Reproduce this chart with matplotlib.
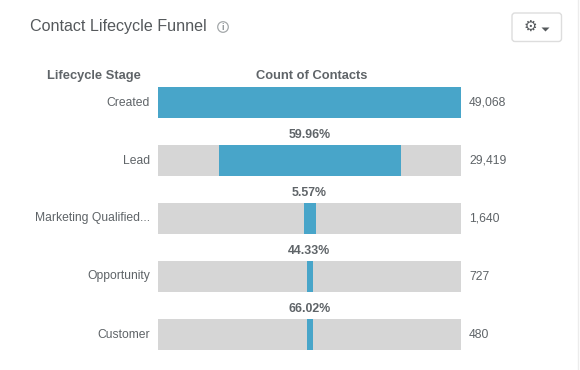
import matplotlib
matplotlib.use("Agg")
import matplotlib.pyplot as plt
from matplotlib.patches import FancyBboxPatch, Circle, Polygon

stages = ["Created", "Lead", "Marketing Qualified...", "Opportunity", "Customer"]
counts = [49068, 29419, 1640, 727, 480]
count_labels = ["49,068", "29,419", "1,640", "727", "480"]
# widths as drawn in the picture (small bars are shown wider than to scale)
drawn_widths = [49068, 29419, 1943, 972, 972]
conversion = [None, "59.96%", "5.57%", "44.33%", "66.02%"]

BLUE = "#48a5c9"
GREY = "#d6d6d6"
TEXT = "#5f6468"
W, H = 580, 370
plt.rcParams["font.family"] = ["Liberation Sans", "DejaVu Sans"]
fig = plt.figure(figsize=(W / 100, H / 100), dpi=100, facecolor="white")

# overlay in pixel coordinates for the panel furniture
ov = fig.add_axes([0, 0, 1, 1], zorder=0)
ov.set_xlim(0, W); ov.set_ylim(H, 0); ov.axis("off")
ov.plot([578, 578], [0, H], color="#ececec", lw=1)
ov.text(30, 27, "Contact Lifecycle Funnel", fontsize=11.6, color="#55595c", va="center", ha="left")
ov.add_patch(Circle((223, 27), 5.3, fc="white", ec="#a4a8aa", lw=0.9))
ov.text(223, 27.3, "i", fontsize=6.5, color="#8f9497", ha="center", va="center", fontweight="bold")
ov.add_patch(FancyBboxPatch((512, 13), 49.5, 28.5, boxstyle="round,pad=0,rounding_size=3",
                            fc="white", ec="#dddddd", lw=1))
ov.text(530.7, 26.3, "\u2699", fontsize=11, color="#55595c", ha="center", va="center",
        family="DejaVu Sans", fontweight="bold")
ov.add_patch(Polygon([[541.5, 27.5], [549.5, 27.5], [545.5, 31.5]], fc="#55595c", ec="none"))
ov.text(141, 76, "Lifecycle Stage", fontsize=9.3, fontweight="bold", color=TEXT, ha="right", va="center")
ov.text(311.5, 76, "Count of Contacts", fontsize=9.3, fontweight="bold", color=TEXT, ha="center", va="center")

# funnel axes: x span 158-461 px, five rows spaced 58 px
ax = fig.add_axes([158 / W, 1 - 363.5 / H, 303 / W, 290 / H], zorder=1)
ax.patch.set_alpha(0)
half = counts[0] / 2
ax.set_xlim(-half, half)
ax.set_ylim(len(stages) - 0.5, -0.5)
ax.axis("off")
bar_h = 31 / 58
rows = range(len(stages))
ax.barh(list(rows), [counts[0]] * len(stages), left=-half, height=bar_h, color=GREY, lw=0)
# inner bars sit half a pixel right of centre, except the full-width first row
lefts = [-half] + [-w / 2 + 80 for w in drawn_widths[1:]]
ax.barh(list(rows), drawn_widths, left=lefts, height=bar_h, color=BLUE, lw=0)

for i in rows:
    ax.annotate(stages[i], (-half, i), xytext=(-8, 0), textcoords="offset pixels",
                ha="right", va="center", fontsize=8.7, color=TEXT, annotation_clip=False)
    ax.annotate(count_labels[i], (half, i), xytext=(8, 0), textcoords="offset pixels",
                ha="left", va="center", fontsize=8.7, color=TEXT, annotation_clip=False)
    if conversion[i]:
        ax.annotate(conversion[i], (0, i - 0.5), xytext=(0, -3.5), textcoords="offset pixels",
                    ha="center", va="center", fontsize=8.9, fontweight="bold", color=TEXT,
                    annotation_clip=False)

fig.savefig("out.png", dpi=100, facecolor="white")
